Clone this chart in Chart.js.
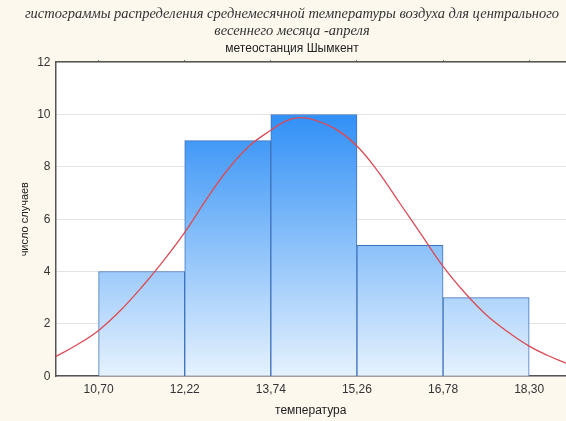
<!DOCTYPE html>
<html>
<head>
<meta charset="utf-8">
<script src="https://cdn.jsdelivr.net/npm/chart.js@4/dist/chart.umd.min.js"></script>
<style>
  html, body { margin: 0; padding: 0; background: #fcf8ee; }
  #wrap { width: 566px; height: 421px; }
</style>
</head>
<body>
<div id="wrap"><canvas id="myChart"></canvas></div>
<script>
// histogram bins (edges = tick labels) and counts
const binEdges = [10.70, 12.22, 13.74, 15.26, 16.78, 18.30];
const counts = [4, 9, 10, 5, 3];

// fitted normal curve
const curveX = [9.94, 10.32, 10.70, 11.08, 11.46, 11.84, 12.22, 12.60, 12.98, 13.36, 13.74, 14.00, 14.25, 14.50, 14.88, 15.26, 15.64, 16.02, 16.40, 16.78, 17.16, 17.54, 17.92, 18.30, 18.62, 18.95];
const curveY = [0.75, 1.2, 1.75, 2.5, 3.4, 4.4, 5.5, 6.75, 7.9, 8.8, 9.4, 9.75, 9.88, 9.8, 9.45, 8.8, 7.8, 6.6, 5.4, 4.2, 3.2, 2.35, 1.7, 1.15, 0.8, 0.5];

const xMin = 9.94;
const xMax = 18.95;

const barData = counts.map((c, i) => ({ x: (binEdges[i] + binEdges[i + 1]) / 2, y: c }));
const lineData = curveX.map((x, i) => ({ x: x, y: curveY[i] }));

const bgPlugin = {
  id: "bg",
  beforeDraw(chart) {
    const ctx = chart.ctx;
    const a = chart.chartArea;
    ctx.save();
    ctx.fillStyle = "#fcf8ee";
    ctx.fillRect(0, 0, chart.width, chart.height);
    ctx.fillStyle = "#ffffff";
    ctx.fillRect(a.left, a.top, a.right - a.left, a.bottom - a.top);
    ctx.restore();
  }
};

function barGradient(context) {
  const chart = context.chart;
  const a = chart.chartArea;
  if (!a) return "#6aaef7";
  const g = chart.ctx.createLinearGradient(0, a.top, 0, a.bottom);
  g.addColorStop(0, "#1c82f4");
  g.addColorStop(0.16, "#2f8ff6");
  g.addColorStop(1, "#e6f2fe");
  return g;
}

const fmt = (v) => Number(v).toFixed(2).replace(".", ",");
const setTicks = (scale) => { scale.ticks = binEdges.map((v) => ({ value: v })); };

Chart.defaults.font.family = "'Liberation Sans', Arial, sans-serif";
Chart.defaults.color = "#333";

new Chart("myChart", {
  type: "bar",
  data: {
    datasets: [
      {
        type: "line",
        data: lineData,
        borderColor: "#dc4a55",
        borderWidth: 1.3,
        pointRadius: 0,
        tension: 0.4,
        fill: false,
        order: 0
      },
      {
        type: "bar",
        data: barData,
        backgroundColor: barGradient,
        borderColor: "#3f72bd",
        borderWidth: 1,
        barPercentage: 1,
        categoryPercentage: 1,
        order: 1
      }
    ]
  },
  plugins: [bgPlugin],
  options: {
    responsive: true,
    maintainAspectRatio: false,
    animation: false,
    layout: { padding: { left: 18, right: 0, top: 5, bottom: 3 } },
    plugins: {
      legend: { display: false },
      tooltip: { enabled: false },
      title: {
        display: true,
        text: [
          "гистограммы распределения среднемесячной температуры воздуха для центрального",
          "весеннего месяца -апреля"
        ],
        color: "#333",
        font: { family: "'Liberation Serif', 'DejaVu Serif', serif", style: "italic", size: 14.5, weight: "normal", lineHeight: 1.2 },
        padding: { top: 0, bottom: 2 }
      },
      subtitle: {
        display: true,
        text: "метеостанция Шымкент",
        color: "#222",
        font: { size: 12 },
        padding: { top: 0, bottom: 4 }
      }
    },
    scales: {
      x: {
        type: "linear",
        position: "bottom",
        offset: false,
        min: xMin,
        max: xMax,
        afterBuildTicks: setTicks,
        grid: { display: false, offset: false, drawTicks: false },
        border: { display: true, color: "#555", width: 1.5 },
        ticks: { callback: fmt, font: { size: 12 }, color: "#333", padding: 6, maxRotation: 0 },
        title: { display: true, text: "температура", font: { size: 12 }, color: "#222", padding: { top: 1, bottom: 0 } }
      },
      x2: {
        type: "linear",
        position: "top",
        offset: false,
        min: xMin,
        max: xMax,
        afterBuildTicks: setTicks,
        grid: { display: true, offset: false, drawOnChartArea: false, drawTicks: true, tickLength: 2, color: "#555" },
        border: { display: true, color: "#555", width: 1.5 },
        ticks: { display: false }
      },
      y: {
        min: 0,
        max: 12,
        ticks: { stepSize: 2, font: { size: 12 }, color: "#333", padding: 5 },
        grid: { color: "#e4e4e4", drawTicks: false },
        border: { display: true, color: "#555", width: 1.5 },
        title: { display: true, text: "число случаев", font: { size: 11 }, color: "#222", padding: { top: 0, bottom: 1 } }
      }
    }
  }
});
</script>
</body>
</html>
